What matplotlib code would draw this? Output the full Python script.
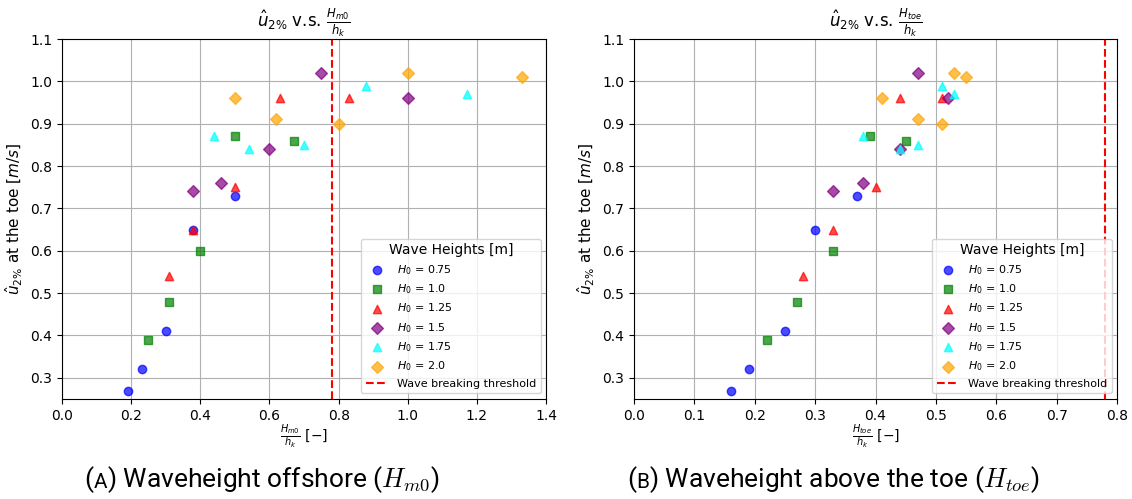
import matplotlib
matplotlib.use("Agg")
import matplotlib.pyplot as plt
from matplotlib.offsetbox import TextArea, HPacker, AnnotationBbox

# Wave heights (legend groups) and marker styles
wave_heights = [0.75, 1.0, 1.25, 1.5, 1.75, 2.0]
colors = ["blue", "green", "red", "purple", "cyan", "orange"]
markers = ["o", "s", "^", "D", "^", "D"]

# Measured u_2% at the toe [m/s], one list per wave height
u2_075 = [0.27, 0.32, 0.41, 0.65, 0.73]
u2_100 = [0.39, 0.48, 0.60, 0.87, 0.86]
u2_125 = [0.54, 0.65, 0.75, 0.96, 0.96]
u2_150 = [0.74, 0.76, 0.84, 1.02, 0.96]
u2_175 = [0.87, 0.84, 0.85, 0.99, 0.97]
u2_200 = [0.96, 0.91, 0.90, 1.02, 1.01]

# Relative wave height, offshore Hm0 / hk
hm0_075 = [0.19, 0.23, 0.30, 0.38, 0.50]
hm0_100 = [0.25, 0.31, 0.40, 0.50, 0.67]
hm0_125 = [0.31, 0.38, 0.50, 0.63, 0.83]
hm0_150 = [0.38, 0.46, 0.60, 0.75, 1.00]
hm0_175 = [0.44, 0.54, 0.70, 0.88, 1.17]
hm0_200 = [0.50, 0.62, 0.80, 1.00, 1.33]

# Relative wave height above the toe, Htoe / hk
htoe_075 = [0.16, 0.19, 0.25, 0.30, 0.37]
htoe_100 = [0.22, 0.27, 0.33, 0.39, 0.45]
htoe_125 = [0.28, 0.33, 0.40, 0.44, 0.51]
htoe_150 = [0.33, 0.38, 0.44, 0.47, 0.52]
htoe_175 = [0.38, 0.44, 0.47, 0.51, 0.53]
htoe_200 = [0.41, 0.47, 0.51, 0.53, 0.55]

breaking_threshold = 0.78

u2_all = [u2_075, u2_100, u2_125, u2_150, u2_175, u2_200]
hm0_all = [hm0_075, hm0_100, hm0_125, hm0_150, hm0_175, hm0_200]
htoe_all = [htoe_075, htoe_100, htoe_125, htoe_150, htoe_175, htoe_200]

fig = plt.figure(figsize=(11.32, 4.99), dpi=100)
ax1 = fig.add_axes([0.0548, 0.2004, 0.4276, 0.7214])
ax2 = fig.add_axes([0.5601, 0.2004, 0.4267, 0.7214])


def draw(ax, xs_all, xname, xmax, xticks):
    for xs, ys, h, c, m in zip(xs_all, u2_all, wave_heights, colors, markers):
        ax.scatter(xs, ys, color=c, marker=m, alpha=0.7,
                   label=r"$H_0$ = " + f"{h}", zorder=3)
    ax.axvline(breaking_threshold, color="red", linestyle="--",
               label="Wave breaking threshold", zorder=2)
    ax.set_xlim(0, xmax)
    ax.set_ylim(0.25, 1.1)
    ax.set_xticks(xticks)
    ax.set_yticks([0.3, 0.4, 0.5, 0.6, 0.7, 0.8, 0.9, 1.0, 1.1])
    ax.grid(True)
    ax.tick_params(labelsize=10)
    ax.set_title(r"$\hat{u}_{2\%}$ v.s. $\frac{H_{" + xname + r"}}{h_k}$",
                 fontsize=12, pad=4)
    ax.set_xlabel(r"$\frac{H_{" + xname + r"}}{h_k}$ $[-]$", fontsize=10,
                  labelpad=0)
    ax.set_ylabel(r"$\hat{u}_{2\%}$ at the toe $[m/s]$", fontsize=11)
    ax.legend(title="Wave Heights [m]", loc="lower right", fontsize=8,
              title_fontsize=10)


draw(ax1, hm0_all, "m0", 1.4, [0.0, 0.2, 0.4, 0.6, 0.8, 1.0, 1.2, 1.4])
draw(ax2, htoe_all, "toe", 0.8, [0.0, 0.1, 0.2, 0.3, 0.4, 0.5, 0.6, 0.7, 0.8])


def caption(letter, rest, xc, yc, size=19):
    big = dict(fontsize=size, family="Roboto", math_fontfamily="cm")
    small = dict(fontsize=size * 0.78, family="Roboto")
    parts = [TextArea("(", textprops=big),
             TextArea(letter, textprops=small),
             TextArea(rest, textprops=big)]
    box = HPacker(children=parts, align="baseline", pad=0, sep=0)
    ab = AnnotationBbox(box, (xc, yc), xycoords="figure fraction",
                        box_alignment=(0.5, 0.5), frameon=False,
                        annotation_clip=False)
    fig.add_artist(ab)


caption("A", ") Waveheight offshore ($H_{m0}$)", 262 / 1132, 1 - 480 / 499)
caption("B", ") Waveheight above the toe ($H_{toe}$)", 834 / 1132, 1 - 480 / 499)

fig.savefig("out.png", dpi=100)
